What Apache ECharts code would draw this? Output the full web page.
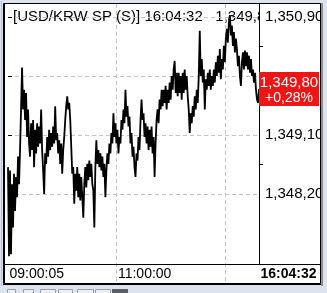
<!DOCTYPE html>
<html><head><meta charset="utf-8">
<script src="https://cdn.jsdelivr.net/npm/echarts@6/dist/echarts.min.js"></script>
<style>html,body{margin:0;padding:0;background:#fff}#c{width:327px;height:293px}</style>
</head><body><div id="c"></div>
<script>
const titleText = '[USD/KRW SP (S)] 16:04:32   1,349,80';
const xTickIndex = [0, 108, 250];
const xTickLabels = ['09:00:05', '11:00:00', '16:04:32'];
const yTickValues = [1348.2, 1349.1, 1350.0, 1350.9];
const yLabelValues = [1348.2, 1349.1, 1350.9];
const yMinorTicks = [1348.65, 1350.45];
const lastPrice = 1349.80;
const changePct = '+0,28%';
const prices = [
1348.61,1347.25,1348.56,1347.28,1348.35,1347.69,1348.51,1347.94,1348.46,1348.15,
1348.77,1348.35,1348.87,1349.49,1350.13,1349.49,1349.79,1349.33,1349.74,1349.07,
1349.49,1348.97,1348.77,1349.28,1348.87,1349.33,1348.61,1349.18,1348.82,1349.28,
1348.92,1349.23,1348.97,1349.49,1348.87,1348.56,1348.20,1348.82,1348.66,1349.07,
1348.77,1349.18,1348.87,1349.13,1348.92,1349.23,1348.97,1349.54,1349.02,1349.13,
1348.82,1349.02,1348.66,1348.97,1348.51,1348.87,1349.07,1349.33,1349.54,1349.69,
1349.49,1349.59,1349.33,1348.92,1348.51,1348.61,1348.05,1348.51,1348.25,1348.61,
1348.15,1348.51,1348.10,1348.46,1348.15,1347.84,1348.35,1348.61,1348.30,1348.66,
1348.41,1348.71,1348.46,1348.66,1348.35,1348.25,1347.69,1348.61,1349.02,1348.66,
1348.87,1348.61,1348.82,1348.56,1348.77,1348.46,1348.66,1348.15,1348.56,1348.82,
1348.66,1348.97,1348.82,1349.13,1348.97,1349.43,1349.07,1349.28,1348.97,1349.18,
1348.82,1349.07,1348.97,1349.33,1349.18,1349.49,1349.28,1349.79,1349.38,1349.54,
1349.23,1349.38,1348.97,1349.13,1348.77,1348.92,1348.61,1348.46,1348.82,1348.71,
1349.07,1348.87,1349.33,1349.64,1349.33,1349.43,1349.07,1349.28,1348.97,1349.23,
1348.87,1349.18,1348.92,1349.23,1348.82,1349.07,1348.46,1348.97,1349.33,1349.49,
1349.28,1349.64,1349.49,1349.79,1349.54,1349.79,1349.59,1349.85,1349.49,1349.79,
1349.59,1349.90,1349.64,1350.00,1349.79,1350.10,1350.23,1349.74,1350.05,1349.69,
1350.05,1349.74,1350.00,1349.64,1350.05,1349.74,1350.10,1349.79,1350.00,1349.69,
1349.49,1349.13,1349.43,1349.28,1349.54,1349.38,1349.69,1349.49,1349.79,1349.59,
1350.00,1350.69,1350.00,1350.26,1349.90,1350.10,1349.49,1349.95,1349.79,1350.05,
1349.85,1350.10,1349.79,1350.00,1349.85,1350.10,1349.90,1350.21,1350.00,1350.31,
1350.05,1350.41,1349.95,1350.26,1350.10,1350.46,1350.21,1350.57,1350.72,1350.51,
1350.82,1350.93,1350.62,1350.77,1350.46,1350.67,1350.36,1350.57,1350.41,1350.15,
1350.31,1350.00,1349.85,1350.21,1350.36,1350.10,1350.39,1350.15,1350.36,1350.10,
1350.31,1350.05,1350.26,1350.00,1350.10,1349.90,1350.05,1349.79,1349.64,1349.59,
1349.80
];

const FONT = '"Liberation Sans", Arial, sans-serif';
const yMin = 1346.8426, yMax = 1351.0983;

function fmt(v) {
  const s = v.toFixed(2).replace('.', ',');
  return s.slice(0, -6) + ',' + s.slice(-6);
}

const chart = echarts.init(document.getElementById('c'), null, {renderer: 'canvas'});
const option = {
  animation: false,
  backgroundColor: '#ffffff',
  grid: {left: 8, right: 68, top: 4, bottom: 10, show: false},
  xAxis: {
    type: 'value', min: 0, max: prices.length - 1, interval: 108, z: 3,
    axisLine: {show: false}, axisTick: {show: false},
    splitLine: {show: true, showMinLine: false, showMaxLine: false,
      lineStyle: {color: '#c4c4c4', type: [4, 3], width: 1}},
    axisLabel: {
      inside: true, margin: 2, customValues: xTickIndex, align: 'left',
      padding: [0, 0, 0, 1.5], color: '#000', fontSize: 14, fontFamily: FONT,
      showMinLabel: true, showMaxLabel: true, hideOverlap: false,
      formatter: function (v) {
        const k = xTickIndex.indexOf(v);
        if (k < 0) return '';
        return k === xTickIndex.length - 1 ? '{b|' + xTickLabels[k] + '}' : xTickLabels[k];
      },
      rich: {b: {fontWeight: 'bold', fontSize: 14, fontFamily: FONT, color: '#000'}}
    }
  },
  yAxis: [{
    type: 'value', position: 'right', min: yMin, max: yMax, z: 3,
    axisLine: {show: false},
    axisTick: {show: true, length: 4, inside: false, customValues: yTickValues, lineStyle: {color: '#000'}},
    axisLabel: {customValues: yLabelValues, formatter: fmt, margin: 6, color: '#000',
      fontSize: 15, fontFamily: FONT, showMinLabel: true, showMaxLabel: true},
    splitLine: {show: true, lineStyle: {color: '#c4c4c4', type: [4, 3], width: 1}}
  }, {
    type: 'value', position: 'right', min: yMin, max: yMax, z: 3,
    axisLine: {show: false},
    axisTick: {show: true, length: 4, inside: false, customValues: yMinorTicks, lineStyle: {color: '#000'}},
    axisLabel: {show: false}, splitLine: {show: false}
  }],
  series: [{
    type: 'line', yAxisIndex: 0, z: 5, silent: true,
    symbol: 'none', showSymbol: false,
    lineStyle: {color: '#000', width: 1.8},
    data: prices.map((v, i) => [i, v])
  }]
};
chart.setOption(option);

const px = Math.round(chart.convertToPixel({xAxisIndex: 0}, prices.length - 1));
const py = chart.convertToPixel({yAxisIndex: 0}, lastPrice);
const pale = '#dde4ef';
const toolX = [7, 23, 40, 58, 77, 95];
const toolW = [8, 10, 15, 14, 16, 15];
const g = [
  {type: 'text', z: 1, x: 13, y: 17, style: {text: titleText, fill: '#000', font: '15px ' + FONT, verticalAlign: 'middle'}},
  {type: 'rect', z: 2, shape: {x: px + 1, y: 4, width: 62, height: 60}, style: {fill: '#fff'}},
  {type: 'line', z: 70, shape: {x1: px + 0.5, y1: 3, x2: px + 0.5, y2: 264}, style: {stroke: '#000', lineWidth: 1}},
  {type: 'line', z: 70, shape: {x1: 3, y1: 264.5, x2: 321, y2: 264.5}, style: {stroke: '#000', lineWidth: 1}},
  {type: 'rect', z: 100, shape: {x: px, y: py - 17, width: 60, height: 34}, style: {fill: '#f01414'}},
  {type: 'text', z: 101, x: px + 30, y: py - 6.5, style: {text: fmt(lastPrice), fill: '#fff', font: '15px ' + FONT, align: 'center', verticalAlign: 'middle'}},
  {type: 'text', z: 101, x: px + 30, y: py + 9.5, style: {text: changePct, fill: '#fff', font: '14px ' + FONT, align: 'center', verticalAlign: 'middle'}},
  {type: 'rect', z: 105, shape: {x: 0, y: 0, width: 3, height: 293}, style: {fill: pale}},
  {type: 'rect', z: 105, shape: {x: 0, y: 0, width: 327, height: 3}, style: {fill: pale}},
  {type: 'rect', z: 105, shape: {x: 321, y: 0, width: 6, height: 293}, style: {fill: pale}},
  {type: 'rect', z: 105, shape: {x: 0, y: 285, width: 327, height: 8}, style: {fill: pale}},
  {type: 'line', z: 106, shape: {x1: 322, y1: 3, x2: 322, y2: 286}, style: {stroke: '#8a8f99', lineWidth: 2}},
  {type: 'line', z: 106, shape: {x1: 1.5, y1: 1, x2: 1.5, y2: 286}, style: {stroke: '#b8c0cc', lineWidth: 1}},
  {type: 'rect', z: 110, shape: {x: 3.5, y: 3.5, width: 317, height: 280}, style: {fill: null, stroke: '#000', lineWidth: 1}},
  {type: 'line', z: 110, shape: {x1: 4.5, y1: 3, x2: 4.5, y2: 284}, style: {stroke: '#000', lineWidth: 1}},
  {type: 'line', z: 110, shape: {x1: 3, y1: 284.5, x2: 321, y2: 284.5}, style: {stroke: '#000', lineWidth: 1}},
  {type: 'rect', z: 107, shape: {x: 112, y: 289, width: 16, height: 5}, style: {fill: '#5a5e66'}}
];
toolX.forEach((x, k) => g.push({type: 'rect', z: 107, shape: {x: x + 0.5, y: 289.5, width: toolW[k], height: 5}, style: {fill: '#eceef2', stroke: '#9aa0aa', lineWidth: 1}}));
chart.setOption({graphic: g});
</script></body></html>
